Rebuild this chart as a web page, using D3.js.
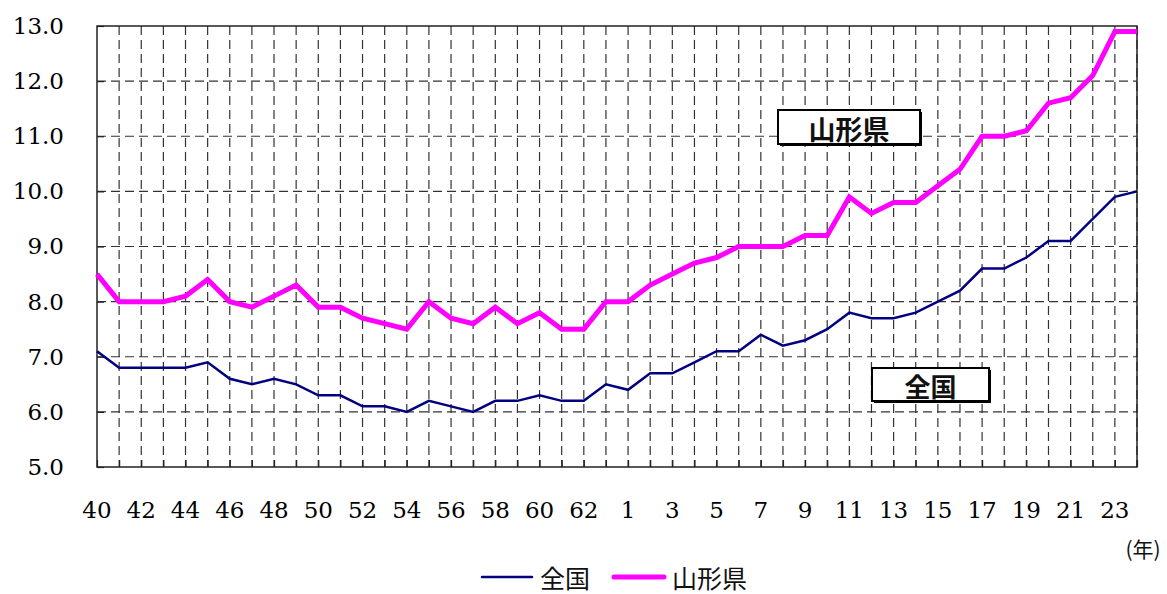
<!DOCTYPE html>
<html>
<head>
<meta charset="utf-8">
<script src="https://cdn.jsdelivr.net/npm/d3@7"></script>
<style>
  body { margin: 0; background: #fff; }
  svg { display: block; }
</style>
</head>
<body>
<svg id="chart"></svg>
<script>
// years: Showa 40-63, then Heisei 1-24
var years = ["40","41","42","43","44","45","46","47","48","49","50","51","52","53","54","55","56","57","58","59","60","61","62","63",
             "1","2","3","4","5","6","7","8","9","10","11","12","13","14","15","16","17","18","19","20","21","22","23","24"];
var tickYears = ["40","42","44","46","48","50","52","54","56","58","60","62",
                 "1","3","5","7","9","11","13","15","17","19","21","23"];

var zenkoku = [7.1,6.8,6.8,6.8,6.8,6.9,6.6,6.5,6.6,6.5,6.3,6.3,6.1,6.1,6.0,6.2,6.1,6.0,6.2,6.2,6.3,6.2,6.2,6.5,
               6.4,6.7,6.7,6.9,7.1,7.1,7.4,7.2,7.3,7.5,7.8,7.7,7.7,7.8,8.0,8.2,8.6,8.6,8.8,9.1,9.1,9.5,9.9,10.0];
var yamagata = [8.5,8.0,8.0,8.0,8.1,8.4,8.0,7.9,8.1,8.3,7.9,7.9,7.7,7.6,7.5,8.0,7.7,7.6,7.9,7.6,7.8,7.5,7.5,8.0,
                8.0,8.3,8.5,8.7,8.8,9.0,9.0,9.0,9.2,9.2,9.9,9.6,9.8,9.8,10.1,10.4,11.0,11.0,11.1,11.6,11.7,12.1,12.9,12.9];

var yTicks = [5,6,7,8,9,10,11,12,13];

var width = 1167, height = 594;
var plotLeft = 97, plotRight = 1137, plotTop = 26, plotBottom = 467;

var svg = d3.select("#chart")
    .attr("width", width)
    .attr("height", height);

var x = d3.scalePoint()
    .domain(years)
    .range([plotLeft, plotRight]);

var y = d3.scaleLinear()
    .domain([5, 13])
    .range([plotBottom, plotTop]);

// dashed grid
svg.append("g")
    .selectAll("line")
    .data(years.slice(1))
    .enter()
    .append("line")
    .attr("x1", function (d) { return x(d); })
    .attr("x2", function (d) { return x(d); })
    .attr("y1", plotTop)
    .attr("y2", plotBottom)
    .attr("stroke", "#333")
    .attr("stroke-width", 1.2)
    .attr("stroke-dasharray", "9,5");

svg.append("g")
    .selectAll("line")
    .data(yTicks.slice(1, -1))
    .enter()
    .append("line")
    .attr("x1", plotLeft)
    .attr("x2", plotRight)
    .attr("y1", function (d) { return y(d); })
    .attr("y2", function (d) { return y(d); })
    .attr("stroke", "#333")
    .attr("stroke-width", 1.2)
    .attr("stroke-dasharray", "9,5");

// frame
svg.append("rect")
    .attr("x", plotLeft)
    .attr("y", plotTop)
    .attr("width", plotRight - plotLeft)
    .attr("height", plotBottom - plotTop)
    .attr("fill", "none")
    .attr("stroke", "#222")
    .attr("stroke-width", 1.5);

// axes with inside ticks
var xAxis = d3.axisBottom(x).tickSize(-7).tickFormat("");
svg.append("g")
    .attr("transform", "translate(0," + plotBottom + ")")
    .call(xAxis)
    .call(function (g) {
        g.select(".domain").remove();
        g.selectAll(".tick line").attr("stroke", "#222").attr("stroke-width", 1.2);
    });

svg.append("g")
    .selectAll("text")
    .data(tickYears)
    .enter()
    .append("text")
    .attr("x", function (d) { return x(d); })
    .attr("y", 518)
    .attr("text-anchor", "middle")
    .attr("font-family", "DejaVu Serif")
    .attr("font-size", 23)
    .attr("fill", "#000")
    .text(function (d) { return d; });

var yAxis = d3.axisLeft(y).tickValues(yTicks).tickSize(-7).tickPadding(33)
    .tickFormat(d3.format(".1f"));
svg.append("g")
    .attr("transform", "translate(" + plotLeft + ",0)")
    .call(yAxis)
    .call(function (g) {
        g.select(".domain").remove();
        g.selectAll(".tick line").attr("stroke", "#222").attr("stroke-width", 1.2);
        g.selectAll(".tick text")
            .attr("font-family", "DejaVu Serif")
            .attr("font-size", 23)
            .attr("fill", "#000");
    });

svg.append("text")
    .attr("x", 1143)
    .attr("y", 557)
    .attr("text-anchor", "middle")
    .attr("font-family", "Noto Sans CJK JP")
    .attr("font-size", 21)
    .attr("fill", "#111")
    .text("(年)");

// lines
var line = d3.line()
    .x(function (d, i) { return x(years[i]); })
    .y(function (d) { return y(d); });

svg.append("path")
    .datum(zenkoku)
    .attr("d", line)
    .attr("fill", "none")
    .attr("stroke", "#000080")
    .attr("stroke-width", 2.5);

svg.append("path")
    .datum(yamagata)
    .attr("d", line)
    .attr("fill", "none")
    .attr("stroke", "#FF00FF")
    .attr("stroke-width", 5);

// boxed labels
function boxLabel(bx, by, bw, bh, label, size) {
    var g = svg.append("g");
    g.append("rect")
        .attr("x", bx + 2).attr("y", by + 2)
        .attr("width", bw).attr("height", bh)
        .attr("fill", "#000");
    g.append("rect")
        .attr("x", bx).attr("y", by)
        .attr("width", bw).attr("height", bh)
        .attr("fill", "#fff")
        .attr("stroke", "#000")
        .attr("stroke-width", 2);
    g.append("text")
        .attr("x", bx + bw / 2)
        .attr("y", by + bh / 2 + 1)
        .attr("text-anchor", "middle")
        .attr("dominant-baseline", "central")
        .attr("font-family", "Noto Sans CJK JP")
        .attr("font-weight", "bold")
        .attr("font-size", size)
        .attr("fill", "#111")
        .text(label);
}
boxLabel(778, 110, 142, 34, "山形県", 27);
boxLabel(872, 368, 117, 33, "全国", 26);

// legend
var legend = [
    { name: "全国", color: "#000080", w: 2.5, x: 482 },
    { name: "山形県", color: "#FF00FF", w: 5, x: 614 }
];
var lg = svg.append("g")
    .selectAll("g")
    .data(legend)
    .enter()
    .append("g")
    .attr("transform", function (d) { return "translate(" + d.x + ",577)"; });
lg.append("line")
    .attr("x1", 0).attr("x2", 50)
    .attr("y1", 0).attr("y2", 0)
    .attr("stroke", function (d) { return d.color; })
    .attr("stroke-width", function (d) { return d.w; })
    .attr("stroke-linecap", "round");
lg.append("text")
    .attr("x", 58)
    .attr("y", 0)
    .attr("dominant-baseline", "central")
    .attr("font-family", "Noto Sans CJK JP")
    .attr("font-size", 25)
    .attr("fill", "#111")
    .text(function (d) { return d.name; });
</script>
</body>
</html>
